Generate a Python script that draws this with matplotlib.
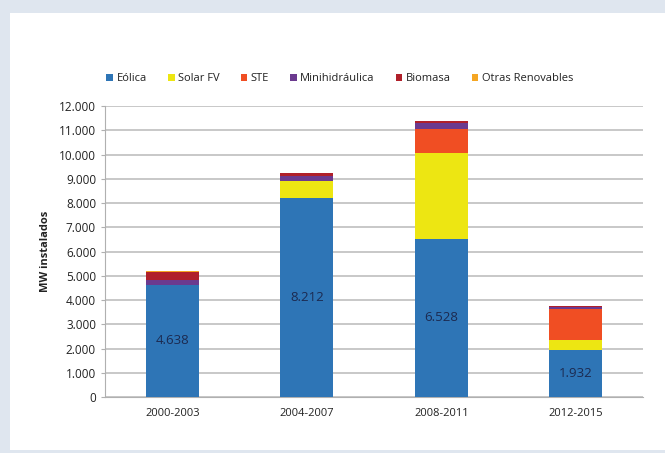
import matplotlib
matplotlib.use("Agg")
import matplotlib.pyplot as plt
from matplotlib.patches import Rectangle
from matplotlib.ticker import FuncFormatter
import numpy as np

# periods on the x axis
periods = ["2000-2003", "2004-2007", "2008-2011", "2012-2015"]

# MW installed per technology
eolica = [4638, 8212, 6528, 1932]
solar_fv = [0, 700, 3534, 420]
ste = [0, 0, 990, 1280]
minihidraulica = [200, 220, 250, 100]
biomasa = [330, 100, 60, 20]
otras = [10, 10, 20, 10]

series_names = ["Eólica", "Solar FV", "STE", "Minihidráulica", "Biomasa", "Otras Renovables"]
series_colors = ["#2e75b6", "#ede612", "#f04e23", "#6b3a8f", "#b0202a", "#f5a623"]

plt.rcParams["font.family"] = ["Open Sans", "DejaVu Sans"]

fig = plt.figure(figsize=(6.65, 4.53), dpi=100)
fig.patch.set_facecolor("#dfe6ef")
# white panel inside the light frame
fig.patches.append(Rectangle((10 / 665, 3 / 453), 1 - 10 / 665, 437 / 453,
                             transform=fig.transFigure, facecolor="white",
                             edgecolor="none", zorder=-5))

ax = fig.add_axes([0.158, 0.1236, 0.809, 0.6424])
ax.set_facecolor("white")

x = np.arange(len(periods))
width = 0.395
data = [eolica, solar_fv, ste, minihidraulica, biomasa, otras]
bottom = np.zeros(len(periods))
for vals, name, col in zip(data, series_names, series_colors):
    ax.bar(x, vals, width, bottom=bottom, color=col, label=name, zorder=3)
    bottom += np.array(vals)

# value labels inside the wind bars
for xi, v in zip(x, eolica):
    ax.text(xi, v / 2, f"{v/1000:.3f}", ha="center", va="center",
            fontsize=9.5, color="#1c2a50", zorder=4)

ax.set_xlim(-0.5, len(periods) - 0.5)
ax.set_ylim(0, 12000)
ax.set_yticks(range(0, 12001, 1000))
ax.yaxis.set_major_formatter(FuncFormatter(lambda v, p: "0" if v == 0 else f"{int(v):,}".replace(",", ".")))
ax.set_xticks(x)
ax.set_xticklabels(periods)
ax.grid(axis="y", color="#c4c4c4", linewidth=1.3, zorder=0)
for s in ["top", "right"]:
    ax.spines[s].set_visible(False)
ax.spines["left"].set_color("#b0b0b0")
ax.spines["bottom"].set_color("#b0b0b0")
ax.tick_params(axis="y", length=3, color="#b0b0b0", labelsize=8.5, labelcolor="#222222")
ax.tick_params(axis="x", length=0, labelsize=8, labelcolor="#222222", pad=8)
ax.set_ylabel("MW instalados", fontsize=8, fontweight="bold", color="#222222", labelpad=6)

fig.legend(loc="center", bbox_to_anchor=(0.511, 0.826), ncol=6, frameon=False,
           fontsize=8, handlelength=0.6, handleheight=0.6, handletextpad=0.3,
           columnspacing=1.9, labelcolor="#222222")

fig.savefig("out.png", dpi=100, facecolor=fig.get_facecolor())
